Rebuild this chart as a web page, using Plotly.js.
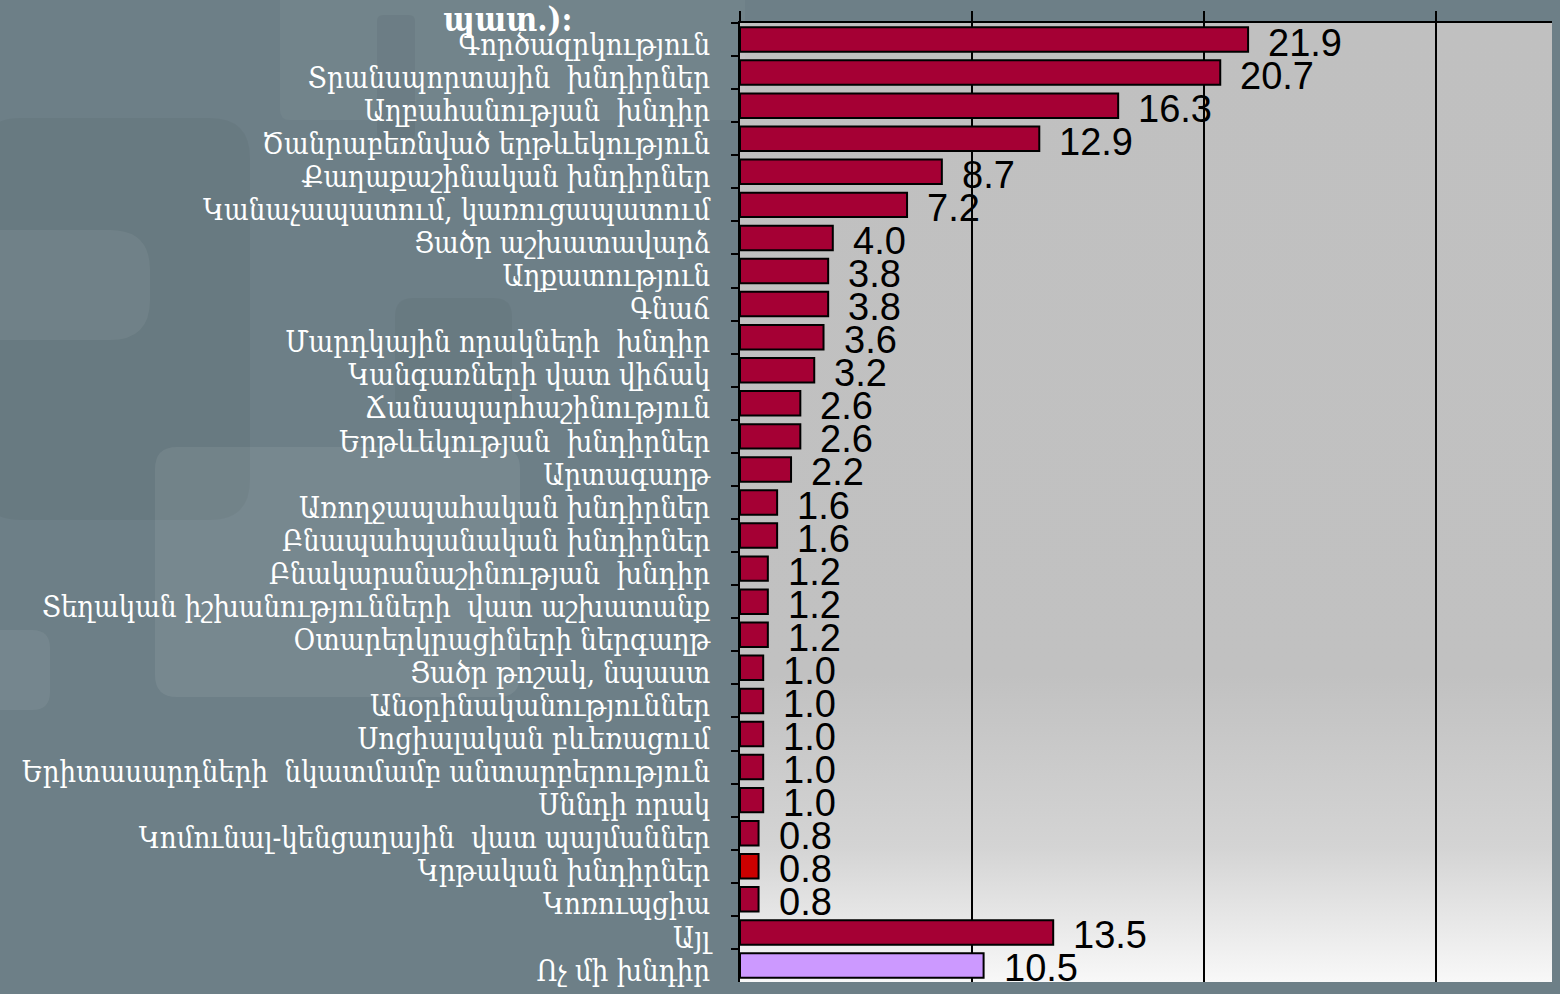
<!DOCTYPE html>
<html>
<head>
<meta charset="utf-8">
<script src="https://cdn.plot.ly/plotly-3.0.1.min.js"></script>
<style>
  html, body { margin: 0; padding: 0; background: #6d7f87; }
  #chart { width: 1560px; height: 994px; }
</style>
</head>
<body>
<div id="chart"></div>
<script>
// ---- data ----
const categories = [
  "Գործազրկություն",
  "Տրանսպորտային  խնդիրներ",
  "Աղբահանության  խնդիր",
  "Ծանրաբեռնված երթևեկություն",
  "Քաղաքաշինական խնդիրներ",
  "Կանաչապատում, կառուցապատում",
  "Ցածր աշխատավարձ",
  "Աղքատություն",
  "Գնաճ",
  "Մարդկային որակների  խնդիր",
  "Կանգառների վատ վիճակ",
  "Ճանապարհաշինություն",
  "Երթևեկության  խնդիրներ",
  "Արտագաղթ",
  "Առողջապահական խնդիրներ",
  "Բնապահպանական խնդիրներ",
  "Բնակարանաշինության  խնդիր",
  "Տեղական իշխանությունների  վատ աշխատանք",
  "Օտարերկրացիների ներգաղթ",
  "Ցածր թոշակ, նպաստ",
  "Անօրինականություններ",
  "Սոցիալական բևեռացում",
  "Երիտասարդների  նկատմամբ անտարբերություն",
  "Սննդի որակ",
  "Կոմունալ-կենցաղային  վատ պայմաններ",
  "Կրթական խնդիրներ",
  "Կոռուպցիա",
  "Այլ",
  "Ոչ մի խնդիր"
];
const values = [21.9, 20.7, 16.3, 12.9, 8.7, 7.2, 4.0, 3.8, 3.8, 3.6, 3.2, 2.6, 2.6, 2.2,
                1.6, 1.6, 1.2, 1.2, 1.2, 1.0, 1.0, 1.0, 1.0, 1.0, 0.8, 0.8, 0.8, 13.5, 10.5];
const barColors = ["#a50034","#a50034","#a50034","#a50034","#a50034","#a50034","#a50034",
                   "#a50034","#a50034","#a50034","#a50034","#a50034","#a50034","#a50034",
                   "#a50034","#a50034","#a50034","#a50034","#a50034","#a50034","#a50034",
                   "#a50034","#a50034","#a50034","#a50034","#cc0000","#a50034","#a50034",
                   "#cc99ff"];
const titleText = "պատ.):";

// ---- layout helpers ----
const W = 1560, H = 994;
const M = { l: 740, r: 8, t: 23, b: 12 };
const PW = W - M.l - M.r, PH = H - M.t - M.b;
const px = x => (x - M.l) / PW;
const py = y => (H - M.b - y) / PH;
function rrect(x0, y0, x1, y1, r, fill) {
  const X0 = px(x0), X1 = px(x1), Y0 = py(y0), Y1 = py(y1);
  const rx = r / PW, ry = r / PH;
  const path = `M ${X0 + rx},${Y0} L ${X1 - rx},${Y0} Q ${X1},${Y0} ${X1},${Y0 - ry} ` +
               `L ${X1},${Y1 + ry} Q ${X1},${Y1} ${X1 - rx},${Y1} L ${X0 + rx},${Y1} ` +
               `Q ${X0},${Y1} ${X0},${Y1 + ry} L ${X0},${Y0 - ry} Q ${X0},${Y0} ${X0 + rx},${Y0} Z`;
  return { type: "path", xref: "paper", yref: "paper", path: path, fillcolor: fill,
           line: { width: 0 }, layer: "below" };
}

const shapes = [
  rrect(-20, 118, 250, 520, 40, "rgba(0,0,0,0.04)"),
  rrect(-40, 230, 150, 340, 40, "rgba(255,255,255,0.06)"),
  rrect(155, 447, 520, 697, 22, "rgba(255,255,255,0.07)"),
  rrect(-30, 630, 50, 710, 18, "rgba(255,255,255,0.06)"),
  rrect(377, 15, 415, 140, 6, "rgba(0,0,0,0.05)"),
  rrect(395, 298, 512, 420, 18, "rgba(0,0,0,0.04)"),
  rrect(280, -20, 745, 120, 10, "rgba(255,255,255,0.04)")
];

const gradSvg = '<svg xmlns="http://www.w3.org/2000/svg" width="100" height="100" preserveAspectRatio="none">' +
  '<defs><linearGradient id="g" x1="0" y1="0" x2="0" y2="1">' +
  '<stop offset="0" stop-color="#c0c0c0"/><stop offset="0.68" stop-color="#c1c1c1"/>' +
  '<stop offset="0.86" stop-color="#d4d4d4"/><stop offset="1" stop-color="#f8f8f8"/>' +
  '</linearGradient></defs><rect width="100" height="100" fill="url(#g)"/></svg>';
const gradUri = "data:image/svg+xml;base64," + btoa(gradSvg);

const annotations = categories.map((c, i) => ({
  x: values[i], y: c, xref: "x", yref: "y",
  text: values[i].toFixed(1), showarrow: false,
  xanchor: "left", yanchor: "middle", xshift: 18, yshift: -3,
  font: { family: "Liberation Sans, Arial, sans-serif", size: 38, color: "#000000" }
}));

const trace = {
  type: "bar", orientation: "h",
  x: values, y: categories,
  marker: { color: barColors, line: { color: "#000000", width: 2 } },
  hoverinfo: "x+y"
};

const layout = {
  width: W, height: H,
  margin: M,
  paper_bgcolor: "#6d7f87",
  plot_bgcolor: "rgba(0,0,0,0)",
  bargap: 0.26,
  showlegend: false,
  title: {
    text: "<b>" + titleText + "</b>",
    xref: "container", yref: "container",
    x: 508 / W, xanchor: "center",
    y: 1 - 8 / H, yanchor: "top",
    font: { family: "DejaVu Serif Condensed, DejaVu Serif, serif", size: 33, color: "#ffffff" }
  },
  xaxis: {
    side: "top", range: [0, 35], tick0: 0, dtick: 10,
    showgrid: true, gridcolor: "#000000", gridwidth: 2,
    zeroline: false,
    showline: true, linecolor: "#000000", linewidth: 2,
    ticks: "outside", ticklen: 10, tickwidth: 2, tickcolor: "#000000",
    showticklabels: false, fixedrange: true
  },
  yaxis: {
    type: "category", range: [categories.length - 0.5, -0.5], autorange: false,
    tickmode: "linear", tick0: 0, dtick: 1,
    showline: true, linecolor: "#000000", linewidth: 2,
    ticks: "outside", tickson: "boundaries", ticklen: 7, tickwidth: 2, tickcolor: "#000000",
    showgrid: false, zeroline: false,
    ticklabelstandoff: 22,
    ticklabelshift: -5,
    tickfont: { family: "DejaVu Serif Condensed, DejaVu Serif, serif", size: 29, color: "#ffffff" },
    fixedrange: true
  },
  shapes: shapes,
  images: [{
    source: gradUri, xref: "paper", yref: "paper",
    x: 0, y: 1, sizex: 1, sizey: 1, sizing: "stretch",
    xanchor: "left", yanchor: "top", layer: "below"
  }],
  annotations: annotations
};

Plotly.newPlot("chart", [trace], layout, { displayModeBar: false, staticPlot: true });
</script>
</body>
</html>
